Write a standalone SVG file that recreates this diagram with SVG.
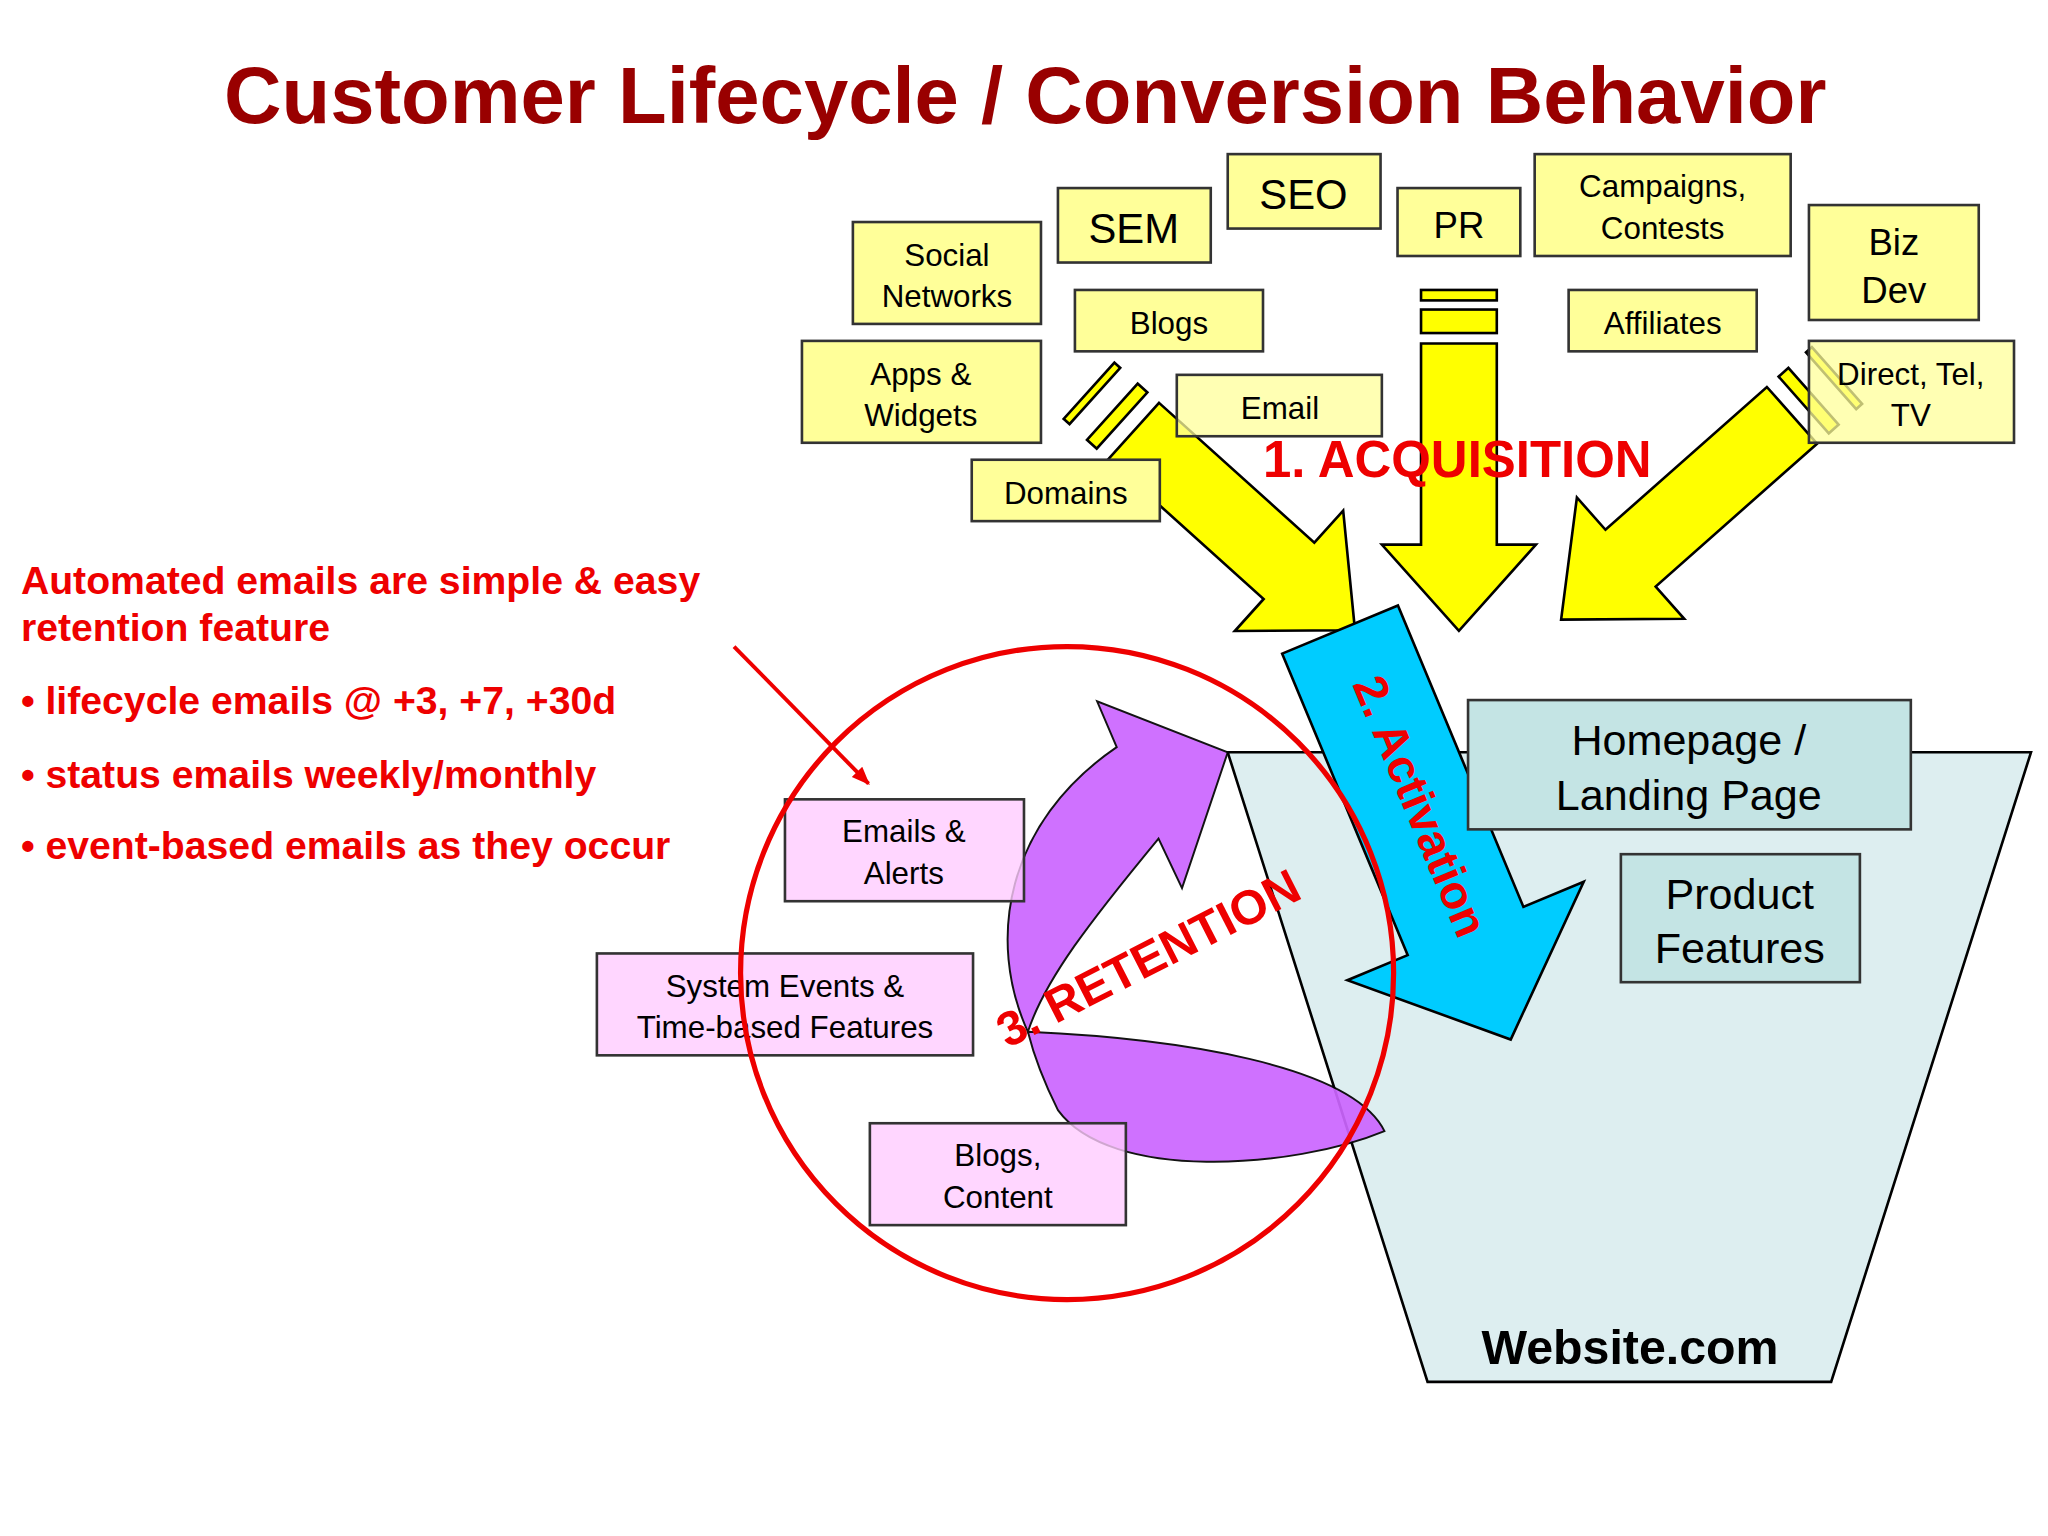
<svg xmlns="http://www.w3.org/2000/svg" width="2048" height="1536" viewBox="0 0 2048 1536">
<defs>
<style>
text{font-family:"Liberation Sans",Arial,sans-serif;text-anchor:middle}
.y rect{fill:#FFFF99;stroke:#333;stroke-width:2}
.ya{fill:#FFFF00;stroke:#000;stroke-width:2}
.p rect{fill:#FFCCFF;fill-opacity:0.8;stroke:#333;stroke-width:2}
.t rect{fill:#C4E4E4;stroke:#333;stroke-width:2}
.red{fill:#EE0000;font-weight:bold}
</style>
<marker id="ah2" viewBox="0 0 10 10" markerWidth="14" markerHeight="14" refX="9" refY="5" orient="auto" markerUnits="userSpaceOnUse"><path d="M0,1 L10,5 L0,9 Z" fill="#EE0000"/></marker>
</defs>
<rect width="2048" height="1536" fill="#fff"/>
<g transform="scale(1.3061)">
<text x="785" y="94" font-size="61" font-weight="bold" fill="#990000">Customer Lifecycle / Conversion Behavior</text>

<g id="funnel"><polygon points="940,576 1555,576 1402,1058 1093,1058" fill="#DDEEF0" stroke="#000" stroke-width="2"/>
<text x="1248" y="1044" font-size="37" font-weight="bold" fill="#000">Website.com</text></g>

<g id="connectors">
<g class="ya">
<rect x="1088" y="222" width="58" height="8"/><rect x="1088" y="237" width="58" height="18"/>
<polygon points="1088,263 1146,263 1146,417 1176,417 1117,483 1058,417 1088,417"/>
<g transform="translate(868,330) rotate(42)"><polygon points="0,-29 160,-29 160,-62 228,0 160,62 160,29 0,29"/><rect x="-22" y="-29" width="10" height="58"/><rect x="-46" y="-29" width="6" height="58"/></g>
<g transform="translate(1372,318) rotate(138.5)"><polygon points="0,-29 165,-29 165,-62 236,0 165,62 165,29 0,29"/><rect x="-22" y="-29" width="10" height="58"/><rect x="-46" y="-29" width="6" height="58"/></g>
</g>
<path d="M562,495 L665,600" stroke="#EE0000" stroke-width="3" marker-end="url(#ah2)"/>
</g>

<g id="bluearrow" transform="translate(1026,482) rotate(67.4)"><polygon points="0,-48 250,-48 250,-98 340,0 250,98 250,48 0,48" fill="#00CCFF" stroke="#000" stroke-width="2"/></g>
<text class="red" font-size="36" transform="translate(1076,622) rotate(67.4)">2. Activation</text>

<g id="purple" fill="#CC66FF" stroke="#000" stroke-width="1.5" opacity="0.92">
<path d="M787,790 C755,720 770,630 855,572 L840,537 L940,576 L905,680 L887,642 C835,705 800,750 787,790 Z"/>
<path d="M787,790 C900,795 1035,815 1060,866 C990,895 850,905 810,850 C800,830 792,810 787,790 Z"/>
</g>

<g id="homepage" class="t"><rect x="1124" y="536" width="339" height="99"/><text x="1293" y="578" font-size="33">Homepage /</text><text x="1293" y="620" font-size="33">Landing Page</text></g>
<g id="product" class="t"><rect x="1241" y="654" width="183" height="98"/><text x="1332" y="696" font-size="33">Product</text><text x="1332" y="737" font-size="33">Features</text></g>

<g id="emails" class="p"><rect x="601" y="612" width="183" height="78"/><text x="692" y="645" font-size="24">Emails &amp;</text><text x="692" y="677" font-size="24">Alerts</text></g>
<g id="system" class="p"><rect x="457" y="730" width="288" height="78"/><text x="601" y="763" font-size="24">System Events &amp;</text><text x="601" y="795" font-size="24">Time-based Features</text></g>
<g id="blogscontent" class="p"><rect x="666" y="860" width="196" height="78"/><text x="764" y="893" font-size="24">Blogs,</text><text x="764" y="925" font-size="24">Content</text></g>

<circle cx="817" cy="745" r="250" fill="none" stroke="#EE0000" stroke-width="4"/>
<text class="red" font-size="37" transform="translate(885,745) rotate(-27)">3. RETENTION</text>

<g class="y">
<g id="social"><rect x="653" y="170" width="144" height="78"/><text x="725" y="204" font-size="24">Social</text><text x="725" y="235" font-size="24">Networks</text></g>
<g id="sem"><rect x="810" y="144" width="117" height="57"/><text x="868" y="186" font-size="32">SEM</text></g>
<g id="seo"><rect x="940" y="118" width="117" height="57"/><text x="998" y="160" font-size="32">SEO</text></g>
<g id="pr"><rect x="1070" y="144" width="94" height="52"/><text x="1117" y="182" font-size="28">PR</text></g>
<g id="campaigns"><rect x="1175" y="118" width="196" height="78"/><text x="1273" y="151" font-size="24">Campaigns,</text><text x="1273" y="183" font-size="24">Contests</text></g>
<g id="bizdev"><rect x="1385" y="157" width="130" height="88"/><text x="1450" y="195" font-size="28">Biz</text><text x="1450" y="232" font-size="28">Dev</text></g>
<g id="blogs"><rect x="823" y="222" width="144" height="47"/><text x="895" y="256" font-size="24">Blogs</text></g>
<g id="affiliates"><rect x="1201" y="222" width="144" height="47"/><text x="1273" y="256" font-size="24">Affiliates</text></g>
<g id="apps"><rect x="614" y="261" width="183" height="78"/><text x="705" y="295" font-size="24">Apps &amp;</text><text x="705" y="326" font-size="24">Widgets</text></g>
<g id="email"><rect x="901" y="287" width="157" height="47" fill-opacity="0.75"/><text x="980" y="321" font-size="24">Email</text></g>
<g id="direct"><rect x="1385" y="261" width="157" height="78" fill-opacity="0.75"/><text x="1463" y="295" font-size="24">Direct, Tel,</text><text x="1463" y="326" font-size="24">TV</text></g>
<g id="domains"><rect x="744" y="352" width="144" height="47"/><text x="816" y="386" font-size="24">Domains</text></g>
</g>
<text class="red" x="967" y="365" font-size="39" style="text-anchor:start">1. ACQUISITION</text>

<g class="red" font-size="30">
<text x="16" y="455" style="text-anchor:start">Automated emails are simple &amp; easy</text>
<text x="16" y="491" style="text-anchor:start">retention feature</text>
<text x="16" y="547" style="text-anchor:start">• lifecycle emails @ +3, +7, +30d</text>
<text x="16" y="603" style="text-anchor:start">• status emails weekly/monthly</text>
<text x="16" y="658" style="text-anchor:start">• event-based emails as they occur</text>
</g>
</g>
</svg>
